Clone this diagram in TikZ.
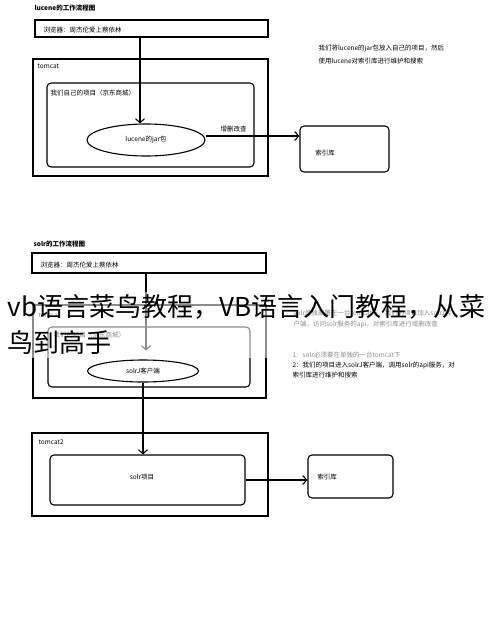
\documentclass[tikz,border=0pt]{standalone}
\usepackage{fontspec}
\setmainfont{Noto Sans CJK SC}
\usepackage{tikz}
\usetikzlibrary{shapes.geometric,arrows.meta}

\begin{document}
\begin{tikzpicture}
            [x=1pt, y=-1pt, line width=1.1pt, >={Straight Barb[length=4pt,width=9pt]},
             txt/.style={font=\fontsize{6.5}{8}\selectfont, inner sep=0pt},
             frame/.style={draw, rectangle, inner sep=0pt},
             roundbox/.style={draw, rectangle, rounded corners=4pt, inner sep=0pt},
             oval/.style={draw, ellipse, inner sep=0pt, font=\fontsize{6.5}{8}\selectfont}]
            \useasboundingbox[fill=white] (0,0) rectangle (490,635);
            % lucene
            \node[txt, anchor=west, font=\fontsize{6.5}{8}\selectfont\bfseries] (titleA) at (34,8) {lucene的工作流程图};
            \node[frame, minimum width=233pt, minimum height=17pt] (browserA) at (151.5,28.5) {};
            \node[txt, anchor=west] (browserAtxt) at (43,30) {浏览器：周杰伦爱上蔡依林};
            \node[frame, minimum width=235pt, minimum height=117pt] (tomcatA) at (150.5,117.5) {};
            \node[txt, anchor=west] (tomcatAtag) at (37,66) {tomcat};
            \node[roundbox, minimum width=207pt, minimum height=84pt] (projA) at (150.5,125) {};
            \node[txt, anchor=west] (projAtag) at (50,93) {我们自己的项目（京东商城）};
            \node[oval, minimum width=118pt, minimum height=32pt] (jarA) at (146,140) {lucene的jar包};
            \node[roundbox, minimum width=89pt, minimum height=46pt] (indexA) at (344.5,149) {};
            \node[txt] (indexAtxt) at (325,153) {索引库};
            \node[txt, anchor=west, align=left, font=\fontsize{6.5}{13}\selectfont] (noteA) at (318,54.5)
                {我们将lucene的jar包放入自己的项目，然后\\使用lucene对索引库进行维护和搜索};
            \draw[->] ([xshift=-6pt]jarA.north |- browserA.south) -- ([xshift=-6pt]jarA.north);
            \draw[->] ([yshift=4pt]jarA.east) -- ([yshift=4pt]jarA.east -| indexA.west)
                node[txt, pos=0.3, above=3pt] (crudA) {增删改查};
            % solr
            \node[txt, anchor=west, font=\fontsize{6.5}{8}\selectfont\bfseries] (titleB) at (33,244) {solr的工作流程图};
            \node[frame, minimum width=234pt, minimum height=20pt] (browserB) at (149,263) {};
            \node[txt, anchor=west] (browserBtxt) at (40,265) {浏览器：周杰伦爱上蔡依林};
            \node[frame, minimum width=233pt, minimum height=93pt] (tomcatB) at (149.5,351.5) {};
            \node[txt, anchor=west] (tomcatBtag) at (38,315) {tomcat};
            \node[roundbox, minimum width=202pt, minimum height=60pt] (projB) at (149,357) {};
            \node[txt, anchor=west] (projBtag) at (53,335) {我们的项目（京东商城）};
            \node[oval, minimum width=111pt, minimum height=22pt] (clientB) at (143,371) {solrJ客户端};
            \node[frame, minimum width=236pt, minimum height=83pt] (tomcatC) at (150,474.5) {};
            \node[txt, anchor=west] (tomcatCtag) at (38,442) {tomcat2};
            \node[roundbox, minimum width=195pt, minimum height=50pt] (solrB) at (147.5,480) {};
            \node[txt] (solrBtxt) at (142,477) {solr项目};
            \node[roundbox, minimum width=85pt, minimum height=43pt] (indexB) at (350.5,476.5) {};
            \node[txt] (indexBtxt) at (327,477) {索引库};
            \node[txt, anchor=west, align=left, font=\fontsize{6.5}{11}\selectfont] (noteB) at (293,318.5)
                {solr单独部署在一台tomcat下，我们的项目加入solrJ客\\户端，访问solr服务的api，对索引库进行增删改查};
            \node[txt, anchor=north west, align=left, font=\fontsize{6.5}{10}\selectfont] (noteC) at (292,351.5)
                {1：solr必须要在单独的一台tomcat下\\2：我们的项目进入solrJ客户端，调用solr的api服务，对\\索引库进行维护和搜索};
            \draw[->, shorten >=9pt] ([xshift=3pt]clientB.north |- browserB.south) -- ([xshift=3pt]clientB.north);
            \draw[->] (clientB.south) -- (clientB.south |- solrB.north);
            \draw[->] (solrB.east) -- (solrB.east -| indexB.west);
            % watermark
            \fill[white, opacity=0.55] (0,292) rectangle (490,358);
            \node[anchor=west, inner sep=0pt, font=\fontsize{26}{30}\selectfont] (markA) at (7,307) {vb语言菜鸟教程，VB语言入门教程，从菜};
            \node[anchor=west, inner sep=0pt, font=\fontsize{26}{30}\selectfont] (markB) at (7,343) {鸟到高手};
        \end{tikzpicture}
\end{document}
